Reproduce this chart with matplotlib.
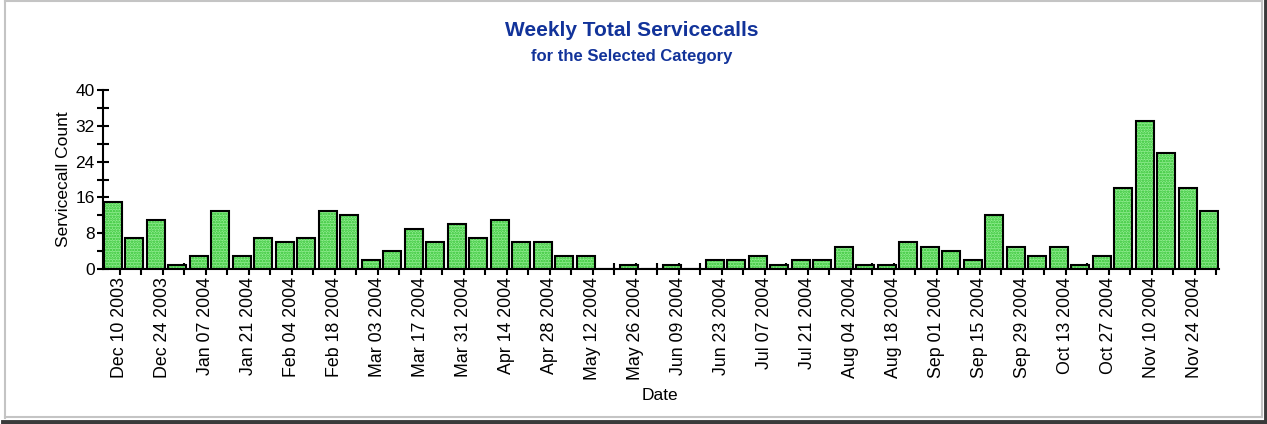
import numpy as np
import matplotlib
matplotlib.use("Agg")
import matplotlib.pyplot as plt
from matplotlib.lines import Line2D

plt.rcParams['font.family'] = ['Liberation Sans', 'DejaVu Sans']
plt.rcParams['hatch.linewidth'] = 1.2

# ===================== Data =====================
weeks = ['Dec 10 2003', 'Dec 17 2003', 'Dec 24 2003', 'Dec 31 2003',
         'Jan 07 2004', 'Jan 14 2004', 'Jan 21 2004', 'Jan 28 2004',
         'Feb 04 2004', 'Feb 11 2004', 'Feb 18 2004', 'Feb 25 2004',
         'Mar 03 2004', 'Mar 10 2004', 'Mar 17 2004', 'Mar 24 2004',
         'Mar 31 2004', 'Apr 07 2004', 'Apr 14 2004', 'Apr 21 2004',
         'Apr 28 2004', 'May 05 2004', 'May 12 2004', 'May 19 2004',
         'May 26 2004', 'Jun 02 2004', 'Jun 09 2004', 'Jun 16 2004',
         'Jun 23 2004', 'Jun 30 2004', 'Jul 07 2004', 'Jul 14 2004',
         'Jul 21 2004', 'Jul 28 2004', 'Aug 04 2004', 'Aug 11 2004',
         'Aug 18 2004', 'Aug 25 2004', 'Sep 01 2004', 'Sep 08 2004',
         'Sep 15 2004', 'Sep 22 2004', 'Sep 29 2004', 'Oct 06 2004',
         'Oct 13 2004', 'Oct 20 2004', 'Oct 27 2004', 'Nov 03 2004',
         'Nov 10 2004', 'Nov 17 2004', 'Nov 24 2004', 'Dec 01 2004']
counts = [15, 7, 11, 1, 3, 13, 3, 7, 6, 7, 13, 12,
          2, 4, 9, 6, 10, 7, 11, 6, 6, 3, 3, 0,
          1, 0, 1, 0, 2, 2, 3, 1, 2, 2, 5, 1,
          1, 6, 5, 4, 2, 12, 5, 3, 5, 1, 3, 18,
          33, 26, 18, 13]
y_ticks = [0, 8, 16, 24, 32, 40]

W, H = 1267, 424
fig = plt.figure(figsize=(W / 100, H / 100), dpi=100)
fig.patch.set_facecolor('white')

# axes box in pixels: x 103..1219, y 90..269
ax = fig.add_axes([103 / W, 1 - 269 / H, (1219 - 103) / W, (269 - 90) / H])

x = np.arange(len(counts))
bw = 0.83
ax.bar(x, counts, width=bw, color='#90ec90', hatch='......', edgecolor='#2fc22f', linewidth=0, zorder=2)
ax.bar(x, counts, width=bw, fill=False, edgecolor='black', linewidth=1.5, zorder=3)

ax.set_xlim(-0.45, len(counts) - 1 + 0.45)
ax.set_ylim(0, 40)

# ticks sit a little to the right of each bar centre, as in the original
tick_off = 0.33
ax.set_xticks(x[::2] + tick_off)
ax.set_xticklabels(weeks[::2], rotation=90, fontsize=12.8)
ax.set_xticks(x[1::2] + tick_off, minor=True)
ax.set_yticks(y_ticks)
ax.set_yticklabels([str(v) for v in y_ticks], fontsize=12.5)
ax.set_yticks(np.arange(4, 40, 8), minor=True)

ax.tick_params(which='both', direction='inout', length=8, width=1.5, color='black')
ax.tick_params(axis='x', which='major', pad=2)
ax.tick_params(axis='y', which='major', pad=2)

for s in ['top', 'right']:
    ax.spines[s].set_visible(False)
for s in ['left', 'bottom']:
    ax.spines[s].set_linewidth(1.5)
    ax.spines[s].set_zorder(4)

ax.set_xlabel('Date', fontsize=12.5, va='center')
ax.xaxis.set_label_coords((660 - 103) / (1219 - 103), (269 - 395) / (269 - 90))
ax.set_ylabel('Servicecall Count', fontsize=12.5, va='center')
ax.yaxis.set_label_coords((63 - 103) / (1219 - 103), 0.5)

# ===================== Titles =====================
fig.text(632 / W, 1 - 31 / H, 'Weekly Total Servicecalls', ha='center', va='center',
         fontsize=15, fontweight='bold', color='#12339a')
fig.text(632 / W, 1 - 57 / H, 'for the Selected Category', ha='center', va='center',
         fontsize=12, fontweight='bold', color='#12339a')


# ===================== Frame =====================
def px_line(x0, y0, x1, y1, color, lw):
    fig.add_artist(Line2D([x0 / W, x1 / W], [1 - y0 / H, 1 - y1 / H],
                          transform=fig.transFigure, color=color, linewidth=lw))


px_line(5, 1, 1262, 1, '#c4c4c4', 1.5)
px_line(5, 1, 5, 418, '#c4c4c4', 1.5)
px_line(5, 417, 1262, 417, '#c4c4c4', 1.5)
px_line(1262, 1, 1262, 417, '#c4c4c4', 1.5)
px_line(3, 421.5, 1267, 421.5, '#3a3a3a', 3.5)
px_line(1265.5, 0, 1265.5, 424, '#3a3a3a', 3.5)

fig.savefig('out.png', dpi=100, facecolor='white')
